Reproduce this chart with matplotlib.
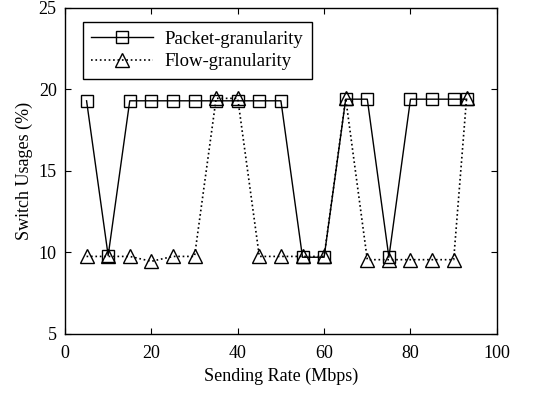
import numpy as np
import matplotlib
matplotlib.use("Agg")
import matplotlib.pyplot as plt

plt.rcParams['font.family'] = ['Liberation Serif', 'DejaVu Serif']

rate = [5, 10, 15, 20, 25, 30, 35, 40, 45, 50, 55, 60, 65, 70, 75, 80, 85, 90, 93]
packet = [19.3, 9.8, 19.3, 19.3, 19.3, 19.3, 19.3, 19.3, 19.3, 19.3,
          9.7, 9.7, 19.4, 19.4, 9.7, 19.4, 19.4, 19.4, 19.4]
flow = [9.75, 9.75, 9.75, 9.45, 9.75, 9.75, 19.45, 19.45, 9.75, 9.75,
        9.75, 9.75, 19.45, 9.55, 9.55, 9.55, 9.55, 9.55, 19.5]

fig = plt.figure(figsize=(5.46, 3.96), dpi=100)
ax = fig.add_axes([0.119, 0.157, 0.791, 0.823])

ax.plot(rate, packet, '-', color='black', lw=1.0, marker='s', ms=8.5,
        mfc='none', mec='black', mew=1.0, label='Packet-granularity')
ax.plot(rate, flow, ':', color='black', lw=1.2, marker='^', ms=10,
        mfc='none', mec='black', mew=1.0, label='Flow-granularity')

ax.set_xlim(0, 100)
ax.set_ylim(5, 25)
ax.set_xticks([0, 20, 40, 60, 80, 100])
ax.set_yticks([5, 10, 15, 20, 25])
ax.tick_params(direction='in', top=True, right=True, labelsize=13, length=4.5)
ax.tick_params(axis='x', pad=8)
ax.tick_params(axis='y', pad=6)
for s in ax.spines.values():
    s.set_linewidth(1.0)

ax.set_xlabel('Sending Rate (Mbps)', fontsize=13, labelpad=4)
ax.set_ylabel('Switch Usages (%)', fontsize=13, labelpad=4)

leg = ax.legend(loc='upper left', fontsize=13.5, handlelength=3.3, fancybox=False,
                edgecolor='black', framealpha=1, borderpad=0.45,
                labelspacing=0.3, handletextpad=0.6, bbox_to_anchor=(0.02, 0.985))
leg.get_frame().set_linewidth(1.0)

fig.savefig('out.png', dpi=100)
